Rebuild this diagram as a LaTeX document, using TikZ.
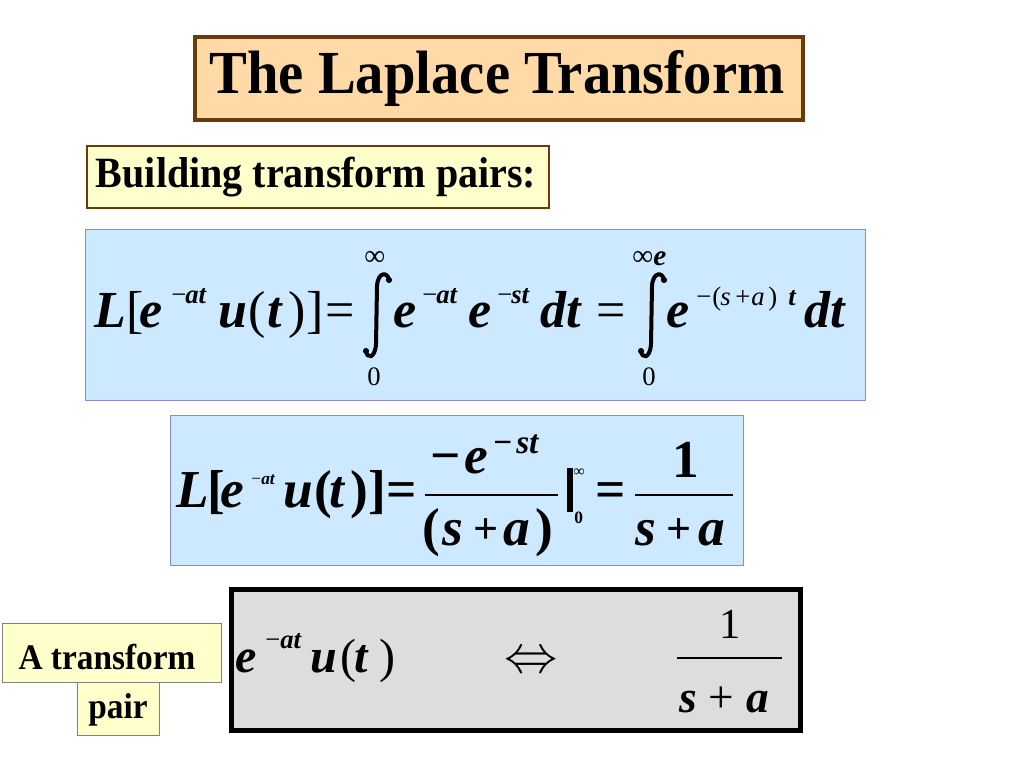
\documentclass[tikz,border=0pt]{standalone}
\usepackage{fontspec}
\setmainfont{Liberation Serif}
\usepackage{graphicx}
\definecolor{brownb}{HTML}{6B3A0A}
\definecolor{peach}{HTML}{FFDAA6}
\definecolor{lyellow}{HTML}{FFFFCC}
\definecolor{lblue}{HTML}{CCE9FF}
\definecolor{bblue}{HTML}{8888DD}
\definecolor{lgray}{HTML}{DDDDDD}
\newcommand{\fs}[1]{\fontsize{#1}{#1}\selectfont}
\newcommand{\vs}[1]{\scalebox{1}[1.08]{#1}}
\begin{document}
\begin{tikzpicture}[x=0.75pt,y=-0.75pt,
  box/.style={draw, rectangle, inner sep=0pt, anchor=north west},
  t/.style={inner sep=0pt, anchor=base west},
  bi/.style={t, font=\fs{#1}\bfseries\itshape},
  rg/.style={t, font=\fs{#1}},
  it/.style={t, font=\fs{#1}\itshape},
  bd/.style={t, font=\fs{#1}\bfseries},
  intg/.style={line width=3pt, line cap=round},
  fbar/.style={line width=1.3pt}]
\useasboundingbox (0,0) rectangle (1024,768);
\fill[white] (0,0) rectangle (1024,768);
% boxes
\node[box, draw=brownb, line width=3pt, fill=peach, minimum width=456pt, minimum height=62.25pt] (titlebox) at (193,35) {};
\node[font=\fs{42.5}\bfseries] (title) at (497,78) {\vs{The Laplace Transform}};
\node[box, draw=brownb, line width=2.2pt, fill=lyellow, minimum width=346.5pt, minimum height=46.5pt] (bbox) at (85.5,144.5) {};
\node[font=\fs{30}\bfseries] (btext) at (316,177) {\vs{Building transform pairs:}};
\node[box, draw=bblue, line width=0.8pt, fill=lblue, minimum width=585pt, minimum height=128.25pt] (row1box) at (85,229) {};
\node[box, draw=bblue, line width=0.8pt, fill=lblue, minimum width=429.75pt, minimum height=112.5pt] (row2box) at (170,415) {};
\node[box, draw=black, line width=3.75pt, fill=lgray, minimum width=426.75pt, minimum height=105.75pt] (row3box) at (228.5,586.5) {};
\node[box, draw=gray, line width=0.7pt, fill=lyellow, minimum width=164pt, minimum height=44pt] (abox) at (2,623) {};
\node[font=\fs{25}\bfseries] (atext) at (107,657) {\vs{A transform}};
\node[box, draw=gray, line width=0.7pt, fill=lyellow, minimum width=61.5pt, minimum height=40pt] (pbox) at (77,682) {};
\node[font=\fs{25}\bfseries] (ptext) at (118,710) {\vs{pair}};
% ---------- row 1
\node[bi=39] (r1L) at (94,327) {L};
\node[rg=39] (r1lb) at (126,327) {[};
\node[bi=39] (r1e) at (139,327) {e};
\node[rg=20] (r1m1) at (171,303) {−};
\node[bi=20] (r1x1) at (185,303) {at};
\node[bi=39] (r1u) at (218,327) {u};
\node[rg=39] (r1lp) at (248,327) {(};
\node[bi=39] (r1t) at (267,327) {t};
\node[rg=39] (r1rp) at (288,327) {)};
\node[rg=39] (r1rb) at (306,327) {]};
\node[rg=39] (r1eq) at (325,327) {=};
\node[rg=22] (r1inf1) at (364,265) {∞};
\draw[intg] (389,280) .. controls (388,272) and (378,271) .. (377,286) -- (376,344) .. controls (375,359) and (367,359) .. (366,351);
\fill (389,280) circle (2.3pt) (366,351) circle (2.3pt);
\node[rg=20] (r1z1) at (367,385) {0};
\node[bi=39] (r1e2) at (393,327) {e};
\node[rg=20] (r1m2) at (422,303) {−};
\node[bi=20] (r1x2) at (436,303) {at};
\node[bi=39] (r1e3) at (468,327) {e};
\node[rg=20] (r1m3) at (497,303) {−};
\node[bi=20] (r1x3) at (511,303) {st};
\node[bi=39] (r1dt) at (540,327) {dt};
\node[rg=39] (r1eq2) at (596,327) {=};
\node[rg=22] (r1inf2) at (632,265) {∞};
\node[bi=22] (r1einf) at (653,265) {e};
\draw[intg] (664,280) .. controls (663,272) and (653,271) .. (652,286) -- (651,344) .. controls (650,359) and (642,359) .. (641,351);
\fill (664,280) circle (2.3pt) (641,351) circle (2.3pt);
\node[rg=20] (r1z2) at (642,385) {0};
\node[bi=39] (r1e4) at (666,327) {e};
\node[rg=20] (r1m4) at (696,305) {−};
\node[rg=20] (r1lp4) at (712,305) {(};
\node[it=20] (r1s4) at (720,305) {s};
\node[rg=20] (r1p4) at (735,305) {+};
\node[it=20] (r1a4) at (751,305) {a};
\node[rg=20] (r1rp4) at (768,305) {)};
\node[bi=20] (r1t4) at (788,305) {t};
\node[bi=39] (r1dt2) at (804,327) {dt};
% ---------- row 2
\node[bi=40] (r2L) at (176,507) {L};
\node[bd=40] (r2lb) at (207,507) {[};
\node[bi=40] (r2e) at (220,507) {e};
\node[rg=13] (r2m) at (251,484) {−};
\node[bi=13] (r2x) at (261,484) {at};
\node[bi=40] (r2u) at (283,507) {u};
\node[bd=40] (r2lp) at (314,507) {(};
\node[bi=40] (r2t) at (329,507) {t};
\node[bd=40] (r2rp) at (350,507) {)};
\node[bd=40] (r2rb) at (368,507) {]};
\node[bd=40] (r2eq) at (386,507) {=};
\node[bd=40] (r2m2) at (430,473) {−};
\node[bi=40] (r2e2) at (464,473) {e};
\node[bd=25] (r2m3) at (493,453) {−};
\node[bi=25] (r2x2) at (516,453) {st};
\coordinate (r2f1a) at (425,495);
\coordinate (r2f1b) at (558,495);
\draw[fbar] (r2f1a) -- (r2f1b);
\node[bd=40] (r2dlp) at (422,545) {(};
\node[bi=40] (r2ds) at (442,545) {s};
\node[bd=33] (r2dp) at (473,543) {+};
\node[bi=40] (r2da) at (503,545) {a};
\node[bd=40] (r2drp) at (535,545) {)};
\fill (567,468) rectangle (573,512);
\node[rg=12] (r2inf) at (573,476) {∞};
\node[bd=13] (r2z) at (574,523) {0};
\node[bd=40] (r2eq2) at (595,507) {=};
\coordinate (r2f2a) at (635,495);
\coordinate (r2f2b) at (733,495);
\draw[fbar] (r2f2a) -- (r2f2b);
\node[bd=40] (r2one) at (672,477) {1};
\node[bi=40] (r2s) at (635,545) {s};
\node[bd=33] (r2p) at (666,543) {+};
\node[bi=40] (r2a) at (698,545) {a};
% ---------- row 3
\node[bi=36] (r3e) at (235,672) {e};
\node[rg=20] (r3m) at (265,648) {−};
\node[bi=20] (r3x) at (280,648) {at};
\node[bi=36] (r3u) at (310,672) {u};
\node[rg=36] (r3lp) at (340,672) {(};
\node[bi=36] (r3t) at (354,672) {t};
\node[rg=36] (r3rp) at (379,672) {)};
\node[t] (r3arr) at (504,672) {\resizebox{40pt}{!}{$\Leftrightarrow$}};
\node[rg=32] (r3one) at (719,638) {1};
\coordinate (r3fa) at (677,658);
\coordinate (r3fb) at (782,658);
\draw[fbar] (r3fa) -- (r3fb);
\node[bi=34] (r3s) at (679,712) {s};
\node[rg=34] (r3p) at (708,712) {+};
\node[bi=34] (r3a) at (746,712) {a};
\end{tikzpicture}
\end{document}
